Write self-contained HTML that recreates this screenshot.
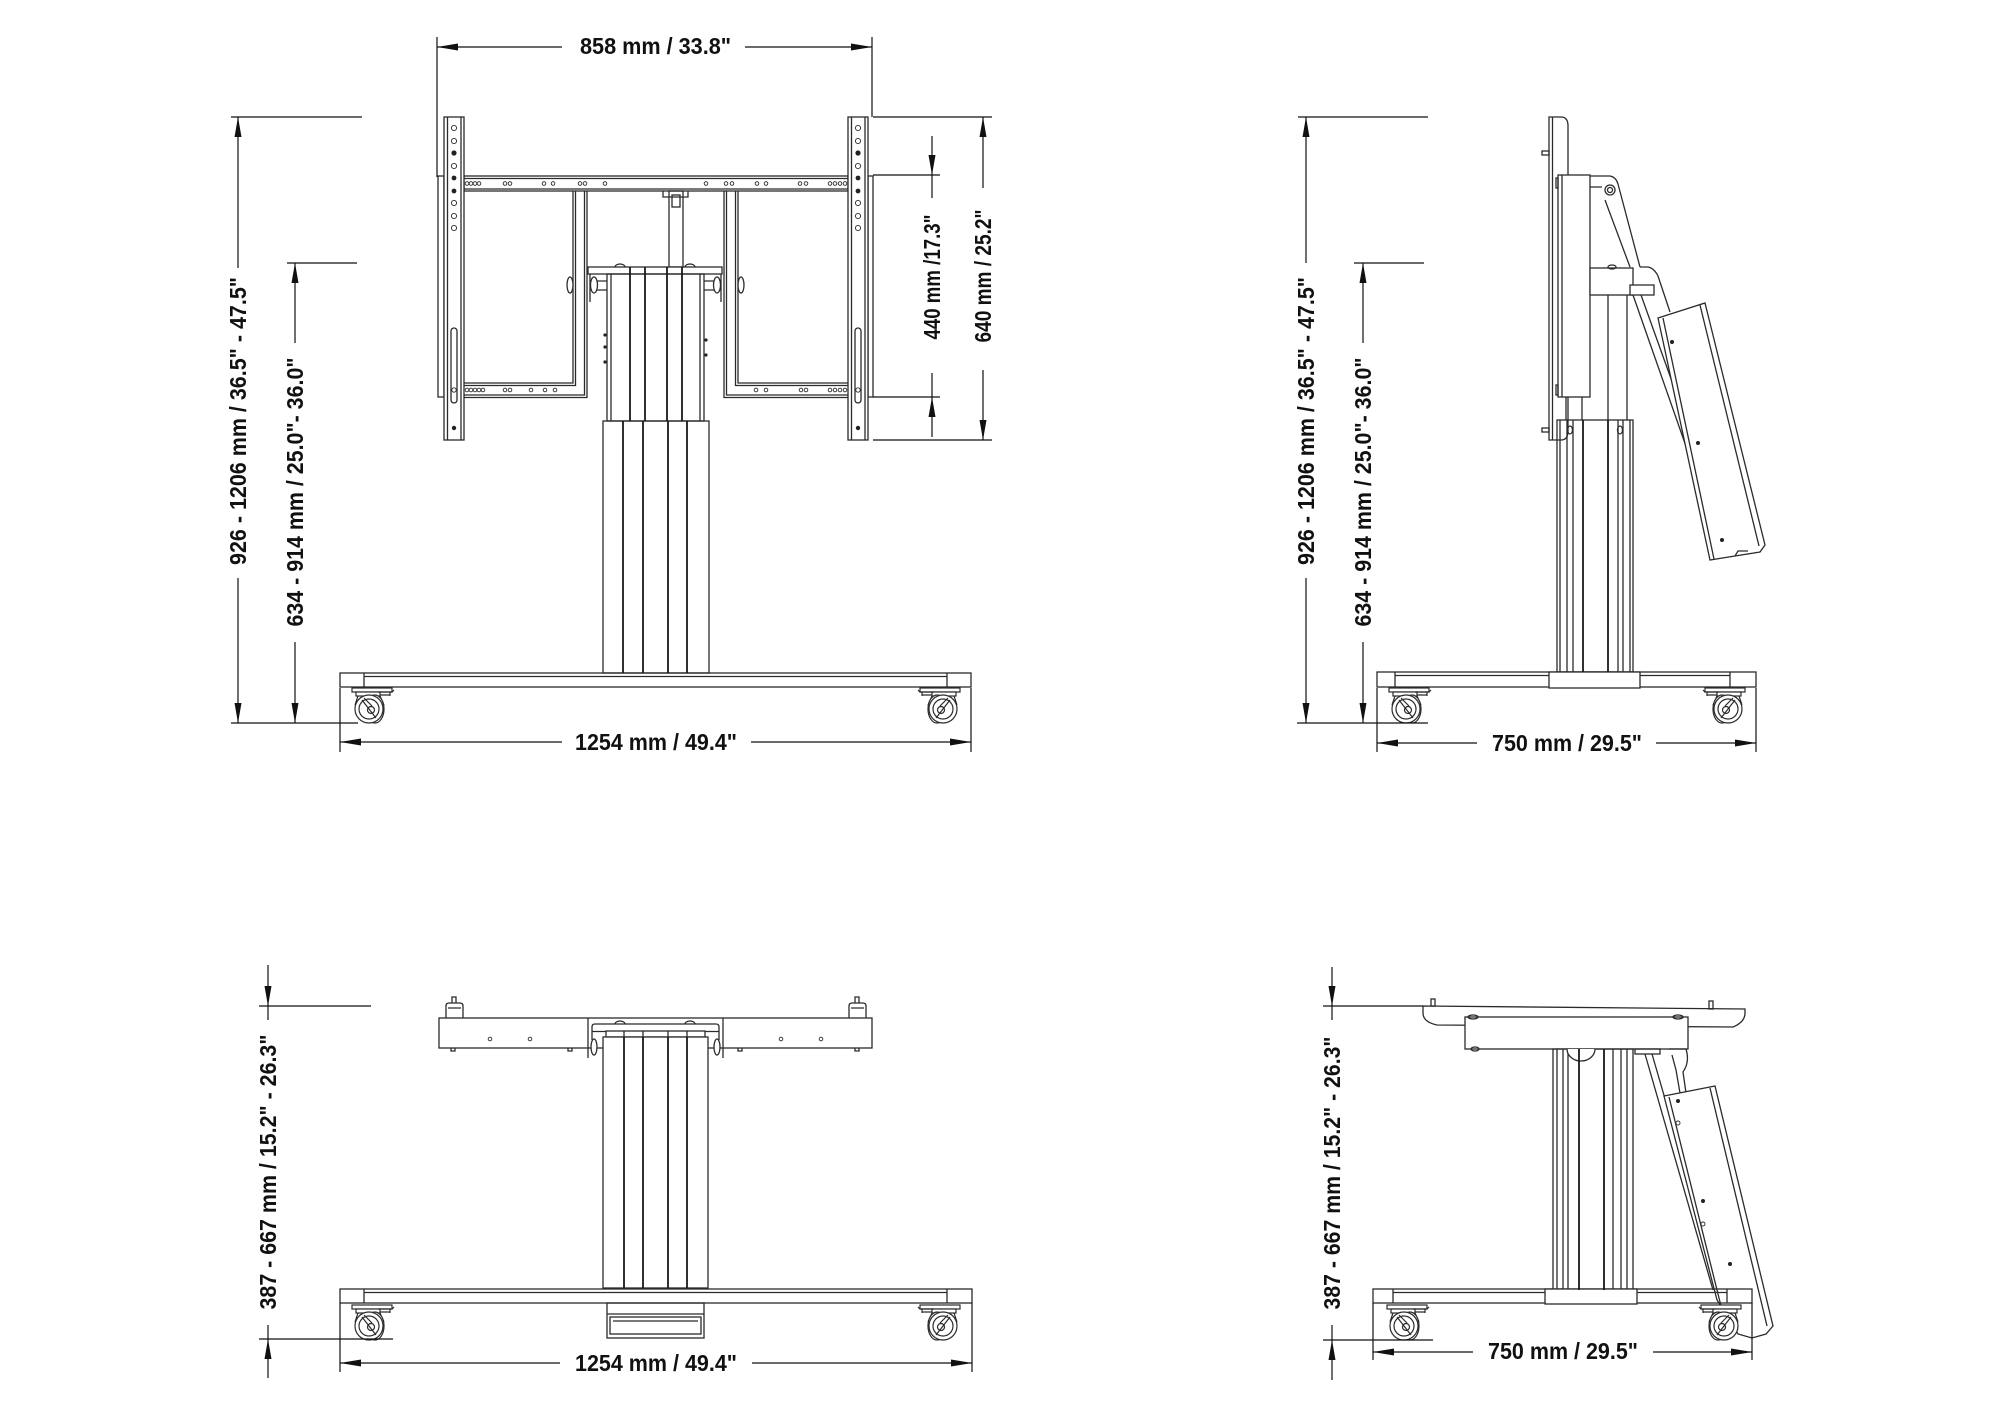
<!DOCTYPE html>
<html><head><meta charset="utf-8"><style>
html,body{margin:0;padding:0;background:#fff;}
svg{display:block;}
.d{fill:none;stroke:#2b2b2b;stroke-width:1.3;}
.dk{fill:none;stroke:#1a1a1a;stroke-width:1.8;}
.dm{fill:none;stroke:#111;stroke-width:1.2;}
.ar{fill:#111;stroke:none;}
.t{font-family:"Liberation Sans",sans-serif;font-weight:bold;font-size:23px;fill:#111;}
.h{fill:#fff;stroke:#2b2b2b;stroke-width:0.9;}
.hf{fill:#222;stroke:none;}
.w{fill:#fff;}
</style></head><body>
<svg width="2000" height="1416" viewBox="0 0 2000 1416" xmlns="http://www.w3.org/2000/svg">
<defs>
<g id="caster" fill="none" stroke="#2b2b2b" stroke-width="1.2">
  <rect x="2" y="0" width="40" height="4" fill="#fff"/>
  <rect x="6" y="4" width="24" height="4" fill="#fff"/>
  <path d="M28,4 L42,4 L44,2 M30,7 L40,7 M40,4 V8"/>
  <path d="M8,8 L5,17 M30,8 L34,17"/>
  <ellipse cx="25" cy="21" rx="9" ry="14" fill="#fff"/>
  <circle cx="19" cy="21" r="14" fill="#fff"/>
  <circle cx="19" cy="21" r="10"/>
  <circle cx="21" cy="22" r="3.5"/>
  <path d="M12,12 L26,30 M14,10 L22,18"/>
</g>
</defs>

<!-- ================= TOP-LEFT FRONT VIEW ================= -->
<g class="d">
  <rect x="438" y="176" width="6" height="221"/>
  <rect x="868" y="176" width="5" height="221"/>
  <rect x="464" y="176" width="384" height="15"/>
  <line x1="464" y1="178.5" x2="848" y2="178.5"/>
  <line x1="464" y1="189" x2="848" y2="189"/>
  <path d="M573,191 V383 H464 M575.5,191 V385.5 H464 M584.5,191 V395 H464 M587,191 V397.5 H464"/>
  <path d="M738,191 V383 H848 M735.5,191 V385.5 H848 M726.5,191 V395 H848 M724,191 V397.5 H848"/>
  <!-- rails -->
  <rect x="444" y="117" width="20" height="323" fill="#fff"/>
  <line x1="447.5" y1="117" x2="447.5" y2="440"/>
  <line x1="461" y1="117" x2="461" y2="440"/>
  <rect x="848" y="117" width="20" height="323" fill="#fff"/>
  <line x1="851.5" y1="117" x2="851.5" y2="440"/>
  <line x1="865" y1="117" x2="865" y2="440"/>
  <rect x="451" y="328" width="6" height="75" rx="3"/>
  <rect x="855" y="328" width="6" height="75" rx="3"/>
  <!-- mast -->
  <rect x="669" y="191" width="14" height="76"/>
  <path d="M663,191 V197 H688 V191"/>
  <rect x="672" y="195" width="8" height="12"/>
  <!-- upper column -->
  <rect x="588" y="267" width="134" height="7" fill="#fff"/>
  <path d="M615,267 a5,3 0 0 1 10,0 M685,267 a5,3 0 0 1 10,0"/>
  <rect x="607" y="274" width="97" height="147"/>
  <line x1="611" y1="274" x2="611" y2="421"/>
  <line x1="700" y1="274" x2="700" y2="421"/>
  <path d="M590,274 V302 M590,281 H607 M590,290 H607 M721,274 V302 M704,281 H721 M704,290 H721"/>
  <ellipse cx="594" cy="285" rx="3.5" ry="8" fill="#fff"/>
  <ellipse cx="570" cy="285" rx="3" ry="8" fill="#fff"/>
  <ellipse cx="717" cy="285" rx="3.5" ry="8" fill="#fff"/>
  <ellipse cx="741" cy="285" rx="3" ry="8" fill="#fff"/>
  <!-- lower column -->
  <rect x="603" y="421" width="106" height="252"/>
  <!-- base -->
  <rect x="340" y="673" width="631" height="14"/>
  <path d="M364,673 V687 M947,673 V687 M364,676.5 H947"/>
</g>
<g class="dk">
  <path d="M630,267 V421 M645,267 V421 M667,267 V421 M682,267 V421"/>
  <path d="M623,421 V673 M643,421 V673 M668,421 V673 M687,421 V673"/>
</g>
<g class="hf">
  <circle cx="605" cy="335" r="1.6"/><circle cx="605" cy="347" r="1.6"/><circle cx="605" cy="362" r="1.6"/>
  <circle cx="706" cy="340" r="1.6"/><circle cx="706" cy="355" r="1.6"/>
  <circle cx="454" cy="153" r="2.6"/><circle cx="858" cy="153" r="2.6"/>
  <circle cx="454" cy="428" r="2.2"/><circle cx="858" cy="428" r="2.2"/>
  <circle cx="454" cy="178" r="2.4"/><circle cx="454" cy="191" r="2.4"/>
  <circle cx="858" cy="178" r="2.4"/><circle cx="858" cy="191" r="2.4"/>
</g>
<g class="h">
  <circle cx="454" cy="128" r="2.6"/><circle cx="454" cy="141" r="2.6"/><circle cx="454" cy="166" r="2.6"/>
  <circle cx="454" cy="203" r="2.6"/><circle cx="454" cy="216" r="2.6"/><circle cx="454" cy="228" r="2.6"/>
  <circle cx="858" cy="128" r="2.6"/><circle cx="858" cy="141" r="2.6"/><circle cx="858" cy="166" r="2.6"/>
  <circle cx="858" cy="203" r="2.6"/><circle cx="858" cy="216" r="2.6"/><circle cx="858" cy="228" r="2.6"/>
  <circle cx="454" cy="390" r="2.2"/><circle cx="858" cy="390" r="2.2"/>
  <!-- crossbar holes -->
  <circle cx="467" cy="183.5" r="1.8"/><circle cx="471" cy="183.5" r="1.8"/><circle cx="475" cy="183.5" r="1.8"/><circle cx="479" cy="183.5" r="1.8"/>
  <circle cx="505" cy="183.5" r="1.8"/><circle cx="510" cy="183.5" r="1.8"/><circle cx="544" cy="183.5" r="1.8"/><circle cx="553" cy="183.5" r="1.8"/>
  <circle cx="580" cy="183.5" r="1.8"/><circle cx="585" cy="183.5" r="1.8"/><circle cx="605" cy="183.5" r="1.8"/>
  <circle cx="706" cy="183.5" r="1.8"/><circle cx="726" cy="183.5" r="1.8"/><circle cx="732" cy="183.5" r="1.8"/>
  <circle cx="757" cy="183.5" r="1.8"/><circle cx="766" cy="183.5" r="1.8"/><circle cx="800" cy="183.5" r="1.8"/><circle cx="806" cy="183.5" r="1.8"/>
  <circle cx="830" cy="183.5" r="1.8"/><circle cx="835" cy="183.5" r="1.8"/><circle cx="840" cy="183.5" r="1.8"/><circle cx="845" cy="183.5" r="1.8"/>
  <!-- bottom bar holes -->
  <circle cx="467" cy="390" r="1.8"/><circle cx="471" cy="390" r="1.8"/><circle cx="475" cy="390" r="1.8"/><circle cx="479" cy="390" r="1.8"/><circle cx="483" cy="390" r="1.8"/>
  <circle cx="505" cy="390" r="1.8"/><circle cx="510" cy="390" r="1.8"/><circle cx="531" cy="390" r="1.8"/><circle cx="545" cy="390" r="1.8"/><circle cx="555" cy="390" r="1.8"/>
  <circle cx="756" cy="390" r="1.8"/><circle cx="766" cy="390" r="1.8"/><circle cx="801" cy="390" r="1.8"/><circle cx="806" cy="390" r="1.8"/>
  <circle cx="830" cy="390" r="1.8"/><circle cx="835" cy="390" r="1.8"/><circle cx="840" cy="390" r="1.8"/><circle cx="845" cy="390" r="1.8"/>
</g>
<use href="#caster" transform="translate(350,688)"/>
<use href="#caster" transform="translate(962,688) scale(-1,1)"/>

<!-- dims TL -->
<g class="dm">
  <path d="M437,37 V177 M872,37 V117 M437,47 H562 M745,47 H872"/>
  <path d="M340,688 V752 M971,688 V752 M340,742 H562 M751,742 H971"/>
  <path d="M231,117 H362 M238,117 V268 M238,578 V723 M231,723 H358"/>
  <path d="M287,263 H357 M295,263 V343 M295,642 V723"/>
  <path d="M873,175 H940 M873,397 H940 M932,136 V198 M932,373 V437"/>
  <path d="M873,117 H992 M873,440 H992 M983,117 V188 M983,370 V440"/>
</g>
<g class="ar">
  <polygon points="437,47 458,43.5 458,50.5"/><polygon points="872,47 851,43.5 851,50.5"/>
  <polygon points="340,742 361,738.5 361,745.5"/><polygon points="971,742 950,738.5 950,745.5"/>
  <polygon points="238,117 234.5,137 241.5,137"/><polygon points="238,723 234.5,703 241.5,703"/>
  <polygon points="295,263 291.5,283 298.5,283"/><polygon points="295,723 291.5,703 298.5,703"/>
  <polygon points="932,175 928.5,155 935.5,155"/><polygon points="932,397 928.5,417 935.5,417"/>
  <polygon points="983,117 979.5,137 986.5,137"/><polygon points="983,440 979.5,420 986.5,420"/>
</g>
<text class="t" x="580" y="54" textLength="151" lengthAdjust="spacingAndGlyphs">858 mm / 33.8"</text>
<text class="t" x="575" y="750" textLength="162" lengthAdjust="spacingAndGlyphs">1254 mm / 49.4"</text>
<text class="t" transform="translate(238,421) rotate(-90)" x="0" y="8" text-anchor="middle" textLength="288" lengthAdjust="spacingAndGlyphs">926 - 1206 mm / 36.5" - 47.5"</text>
<text class="t" transform="translate(295,492) rotate(-90)" x="0" y="8" text-anchor="middle" textLength="269" lengthAdjust="spacingAndGlyphs">634 - 914 mm / 25.0"- 36.0"</text>
<text class="t" transform="translate(932,277) rotate(-90)" x="0" y="8" text-anchor="middle" textLength="125" lengthAdjust="spacingAndGlyphs">440 mm /17.3"</text>
<text class="t" transform="translate(983,276) rotate(-90)" x="0" y="8" text-anchor="middle" textLength="133" lengthAdjust="spacingAndGlyphs">640 mm / 25.2"</text>

<!-- ================= TOP-RIGHT SIDE VIEW ================= -->
<g class="d">
  <path d="M1549,117 H1561 Q1568,117 1568,126 V431 Q1568,440 1561,440 H1549 Z"/>
  <line x1="1552.5" y1="117" x2="1552.5" y2="440"/>
  <rect x="1542" y="151" width="7" height="4"/>
  <rect x="1542" y="428" width="7" height="4"/>
  <rect x="1558" y="175" width="32" height="222" fill="#fff"/>
  <line x1="1562" y1="175" x2="1562" y2="397"/>
  <rect x="1556" y="178" width="2" height="10"/><rect x="1556" y="385" width="2" height="10"/>
  <path d="M1590,176 H1610 Q1616,177 1618,184 L1640,267"/>
  <path d="M1590,187 H1602 M1605,200 L1630,267"/>
  <circle cx="1610" cy="190" r="5" fill="#fff"/><circle cx="1610" cy="190" r="2.5"/>
  <path d="M1640,267 H1648 Q1654,268 1658,276 L1670,312"/>
  <rect x="1590" y="268" width="43" height="27" fill="#fff"/>
  <ellipse cx="1612" cy="267" rx="4" ry="2"/>
  <rect x="1630" y="285" width="24" height="10" fill="#fff"/>
  <path d="M1633,295 L1702,492 M1641,295 L1708,482"/>
  <polygon points="1658,318 1705,303 1765,545 1760,552 1735,556 1710,560" fill="#fff"/>
  <path d="M1700,305 L1759,546 M1663,318 L1714,559 M1735,556 L1738,551 H1748"/>
  <path d="M1608,295 V420 M1627,295 V420 M1566,397 V420 M1582,397 V420"/>
  <rect x="1557" y="420" width="76" height="252"/>
  <path d="M1560,420 V672 M1567,420 V672 M1573,420 V672 M1618,420 V672 M1623,420 V672 M1630,420 V672"/>
  <ellipse cx="1570" cy="430" rx="2.5" ry="4"/><ellipse cx="1620" cy="430" rx="2.5" ry="4"/>
  <rect x="1377" y="672" width="379" height="15"/>
  <path d="M1395,672 V687 M1730,672 V687 M1395,675.5 H1730"/>
  <rect x="1549" y="672" width="91" height="16" fill="#fff"/>
</g>
<g class="dk"><path d="M1583,420 V672 M1608,420 V672"/></g>
<g class="hf"><circle cx="1672" cy="342" r="2"/><circle cx="1698" cy="443" r="2"/><circle cx="1722" cy="540" r="2"/></g>
<use href="#caster" transform="translate(1387,688)"/>
<use href="#caster" transform="translate(1747,688) scale(-1,1)"/>
<g class="dm">
  <path d="M1298,117 H1428 M1306,117 V263 M1306,578 V723 M1297,723 H1428"/>
  <path d="M1354,263 H1424 M1363,263 V343 M1363,642 V723"/>
  <path d="M1377,688 V752 M1756,688 V752 M1377,743 H1477 M1656,743 H1756"/>
</g>
<g class="ar">
  <polygon points="1306,117 1302.5,137 1309.5,137"/><polygon points="1306,723 1302.5,703 1309.5,703"/>
  <polygon points="1363,263 1359.5,283 1366.5,283"/><polygon points="1363,723 1359.5,703 1366.5,703"/>
  <polygon points="1377,743 1398,739.5 1398,746.5"/><polygon points="1756,743 1735,739.5 1735,746.5"/>
</g>
<text class="t" x="1492" y="751" textLength="150" lengthAdjust="spacingAndGlyphs">750 mm / 29.5"</text>
<text class="t" transform="translate(1306,421) rotate(-90)" x="0" y="8" text-anchor="middle" textLength="288" lengthAdjust="spacingAndGlyphs">926 - 1206 mm / 36.5" - 47.5"</text>
<text class="t" transform="translate(1363,492) rotate(-90)" x="0" y="8" text-anchor="middle" textLength="269" lengthAdjust="spacingAndGlyphs">634 - 914 mm / 25.0"- 36.0"</text>

<!-- ================= BOTTOM-LEFT VIEW ================= -->
<g class="d">
  <rect x="439" y="1018" width="433" height="30"/>
  <path d="M588,1018 V1058 M723,1018 V1058"/>
  <path d="M592,1040 V1027 Q592,1024 595,1024 H716 Q719,1024 719,1027 V1040 M592,1031.5 H719"/>
  <path d="M615,1024 a5,3 0 0 1 10,0 M685,1024 a5,3 0 0 1 10,0"/>
  <ellipse cx="594" cy="1047" rx="3" ry="8" fill="#fff"/>
  <ellipse cx="717" cy="1047" rx="3" ry="8" fill="#fff"/>
  <rect x="606" y="1031" width="99" height="6" fill="#fff"/>
  <path d="M624,1031 V1037 M643,1031 V1037 M668,1031 V1037 M687,1031 V1037"/>
  <rect x="603" y="1037" width="105" height="251" fill="#fff"/>
  <path d="M446,1018 V1006 Q446,1003 449,1003 H460 Q463,1003 463,1006 V1018 M452,1003 V997 H456 V1003 M448,1008 H461"/>
  <path d="M849,1018 V1006 Q849,1003 852,1003 H863 Q866,1003 866,1006 V1018 M855,1003 V997 H859 V1003 M851,1008 H864"/>
  <path d="M451,1048 v3 h4 v-3 M568,1048 v3 h4 v-3 M738,1048 v3 h4 v-3 M855,1048 v3 h4 v-3"/>
  <rect x="340" y="1289" width="632" height="14"/>
  <path d="M364,1289 V1303 M947,1289 V1303 M364,1292.5 H947"/>
  <rect x="607" y="1303" width="97" height="35"/>
  <path d="M607,1314 H704"/>
  <rect x="610" y="1317" width="91" height="17"/>
  <path d="M613,1321 H698"/>
</g>
<g class="dk"><path d="M624,1037 V1288 M643,1037 V1288 M668,1037 V1288 M687,1037 V1288"/></g>
<g class="h"><circle cx="490" cy="1039" r="1.8"/><circle cx="530" cy="1039" r="1.8"/><circle cx="781" cy="1039" r="1.8"/><circle cx="821" cy="1039" r="1.8"/></g>
<use href="#caster" transform="translate(350,1305)"/>
<use href="#caster" transform="translate(962,1305) scale(-1,1)"/>
<g class="dm">
  <path d="M259,1006 H371 M268,965 V1020 M268,1325 V1378 M259,1339 H393"/>
  <path d="M340,1303 V1372 M972,1303 V1372 M340,1363 H560 M752,1363 H972"/>
</g>
<g class="ar">
  <polygon points="268,1006 264.5,986 271.5,986"/><polygon points="268,1339 264.5,1359 271.5,1359"/>
  <polygon points="340,1363 361,1359.5 361,1366.5"/><polygon points="972,1363 951,1359.5 951,1366.5"/>
</g>
<text class="t" x="575" y="1371" textLength="162" lengthAdjust="spacingAndGlyphs">1254 mm / 49.4"</text>
<text class="t" transform="translate(268,1172) rotate(-90)" x="0" y="8" text-anchor="middle" textLength="275" lengthAdjust="spacingAndGlyphs">387 - 667 mm / 15.2" - 26.3"</text>

<!-- ================= BOTTOM-RIGHT VIEW ================= -->
<g class="d">
  <path d="M1423,1006 L1745,1009 V1013 Q1745,1022 1733,1027 L1437,1025 Q1423,1022 1423,1013 Z"/>
  <rect x="1431" y="999" width="4" height="7"/><rect x="1709" y="1001" width="4" height="8"/>
  <rect x="1465" y="1017" width="223" height="32" fill="#fff"/>
  <ellipse cx="1473" cy="1017" rx="5" ry="2"/><ellipse cx="1678" cy="1017" rx="5" ry="2"/>
  <ellipse cx="1475" cy="1049" rx="4" ry="2"/>
  <rect x="1553" y="1049" width="80" height="241"/>
  <path d="M1557,1049 V1290 M1563,1049 V1290 M1568,1049 V1290 M1613,1049 V1290 M1621,1049 V1290 M1627,1049 V1290"/>
  <path d="M1567,1049 A14,12 0 0 0 1595,1049" fill="#fff"/>
  <rect x="1635" y="1049" width="25" height="5"/>
  <path d="M1645,1054 L1713,1290 M1652,1054 L1720,1288"/>
  <path d="M1669,1049 L1686,1049 Q1690,1062 1683,1072 L1686,1093 M1672,1055 L1676,1070 L1680,1093"/>
  <polygon points="1664,1096 1715,1086 1773,1326 1766,1334 1752,1338 1738,1334 1717,1300" fill="#fff"/>
  <path d="M1710,1088 L1767,1326 M1669,1097 L1721,1306"/>
  <rect x="1373" y="1289" width="379" height="14"/>
  <path d="M1393,1289 V1303 M1727,1289 V1303 M1393,1292.5 H1727"/>
  <rect x="1545" y="1289" width="92" height="15" fill="#fff"/>
</g>
<g class="dk"><path d="M1579,1049 V1290 M1604,1049 V1290"/></g>
<g class="hf"><circle cx="1678" cy="1101" r="2"/><circle cx="1703" cy="1201" r="2"/><circle cx="1730" cy="1264" r="2"/></g>
<g class="h"><circle cx="1678" cy="1123" r="2"/><circle cx="1703" cy="1224" r="2"/></g>
<use href="#caster" transform="translate(1385,1305)"/>
<use href="#caster" transform="translate(1743,1305) scale(-1,1)"/>
<g class="dm">
  <path d="M1323,1006 H1423 M1332,967 V1020 M1332,1325 V1380 M1323,1340 H1433"/>
  <path d="M1373,1303 V1360 M1752,1303 V1360 M1373,1352 H1473 M1653,1352 H1752"/>
</g>
<g class="ar">
  <polygon points="1332,1006 1328.5,986 1335.5,986"/><polygon points="1332,1340 1328.5,1360 1335.5,1360"/>
  <polygon points="1373,1352 1394,1348.5 1394,1355.5"/><polygon points="1752,1352 1731,1348.5 1731,1355.5"/>
</g>
<text class="t" x="1488" y="1359" textLength="150" lengthAdjust="spacingAndGlyphs">750 mm / 29.5"</text>
<text class="t" transform="translate(1332,1173) rotate(-90)" x="0" y="8" text-anchor="middle" textLength="273" lengthAdjust="spacingAndGlyphs">387 - 667 mm / 15.2" - 26.3"</text>
</svg>
</body></html>
